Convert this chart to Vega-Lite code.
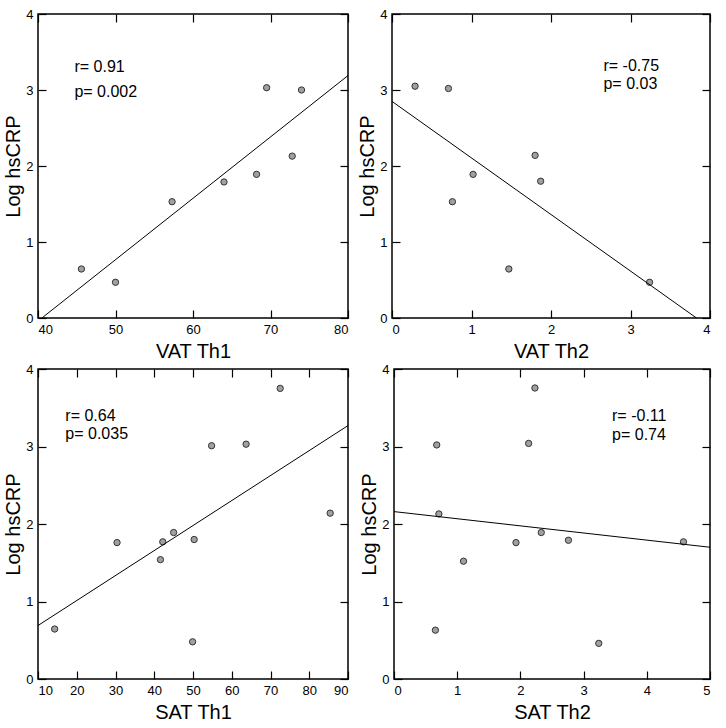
{
  "$schema": "https://vega.github.io/schema/vega-lite/v6.json",
  "background": "white",
  "padding": {"left": 3, "top": 7, "right": 0, "bottom": 0},
  "config": {
    "font": "Liberation Sans",
    "view": {"stroke": "black", "strokeWidth": 1.5},
    "axis": {
      "domain": false,
      "grid": false,
      "tickColor": "black",
      "tickSize": -8,
      "tickWidth": 1.2,
      "labelFont": "Liberation Sans",
      "labelFontSize": 13,
      "labelColor": "black",
      "labelPadding": 13,
      "titleFont": "Liberation Sans",
      "titleFontSize": 20,
      "titleFontWeight": "normal",
      "titleColor": "black",
      "titlePadding": 2
    },
    "axisX": {"titlePadding": 5},
    "text": {"font": "Liberation Sans", "fontSize": 16, "align": "left", "baseline": "middle", "color": "black"}
  },
  "spacing": 0,
  "vconcat": [
    {
      "spacing": 6,
      "hconcat": [
        {
          "width": 310, "height": 304,
          "layer": [
            {
              "data": {"values": [
                {"VAT_Th1": 45.6, "LogCRP": 0.645},
                {"VAT_Th1": 50.0, "LogCRP": 0.47},
                {"VAT_Th1": 57.3, "LogCRP": 1.53},
                {"VAT_Th1": 64.0, "LogCRP": 1.79},
                {"VAT_Th1": 68.2, "LogCRP": 1.89},
                {"VAT_Th1": 69.5, "LogCRP": 3.03},
                {"VAT_Th1": 72.8, "LogCRP": 2.13},
                {"VAT_Th1": 74.0, "LogCRP": 3.00}
              ]},
              "mark": {"type": "point", "filled": true, "fill": "#a0a0a0", "stroke": "#333333", "strokeWidth": 1, "size": 40, "opacity": 1},
              "encoding": {
                "x": {"field": "VAT_Th1", "type": "quantitative", "scale": {"domain": [40, 80], "nice": false}, "axis": {"title": "VAT Th1", "values": [40, 50, 60, 70, 80], "orient": "bottom"}},
                "y": {"field": "LogCRP", "type": "quantitative", "scale": {"domain": [0, 4], "nice": false}, "axis": {"title": "Log hsCRP", "values": [0, 1, 2, 3, 4], "orient": "left"}}
              }
            },
            {
              "data": {"values": [
                {"VAT_Th1": 40.5, "LogCRP": 0},
                {"VAT_Th1": 80, "LogCRP": 3.19}
              ]},
              "mark": {"type": "line", "color": "black", "strokeWidth": 1},
              "encoding": {
                "x": {"field": "VAT_Th1", "type": "quantitative", "axis": {"title": null, "labels": false, "values": [40, 50, 60, 70, 80], "orient": "top"}},
                "y": {"field": "LogCRP", "type": "quantitative", "axis": {"title": null, "labels": false, "values": [0, 1, 2, 3, 4], "orient": "right"}}
              }
            },
            {
              "data": {"values": [{}]},
              "mark": {"type": "text", "text": "r= 0.91"},
              "encoding": {"x": {"datum": 44.7, "type": "quantitative", "axis": null}, "y": {"datum": 3.30, "type": "quantitative", "axis": null}}
            },
            {
              "data": {"values": [{}]},
              "mark": {"type": "text", "text": "p= 0.002"},
              "encoding": {"x": {"datum": 44.7, "type": "quantitative", "axis": null}, "y": {"datum": 2.97, "type": "quantitative", "axis": null}}
            }
          ],
          "resolve": {"axis": {"x": "independent", "y": "independent"}}
        },
        {
          "width": 318, "height": 304,
          "layer": [
            {
              "data": {"values": [
                {"VAT_Th2": 0.29, "LogCRP": 3.05},
                {"VAT_Th2": 0.71, "LogCRP": 3.02},
                {"VAT_Th2": 0.76, "LogCRP": 1.53},
                {"VAT_Th2": 1.02, "LogCRP": 1.89},
                {"VAT_Th2": 1.47, "LogCRP": 0.645},
                {"VAT_Th2": 1.80, "LogCRP": 2.14},
                {"VAT_Th2": 1.87, "LogCRP": 1.80},
                {"VAT_Th2": 3.24, "LogCRP": 0.47}
              ]},
              "mark": {"type": "point", "filled": true, "fill": "#a0a0a0", "stroke": "#333333", "strokeWidth": 1, "size": 40, "opacity": 1},
              "encoding": {
                "x": {"field": "VAT_Th2", "type": "quantitative", "scale": {"domain": [0, 4], "nice": false}, "axis": {"title": "VAT Th2", "values": [0, 1, 2, 3, 4], "orient": "bottom"}},
                "y": {"field": "LogCRP", "type": "quantitative", "scale": {"domain": [0, 4], "nice": false}, "axis": {"title": "Log hsCRP", "values": [0, 1, 2, 3, 4], "orient": "left"}}
              }
            },
            {
              "data": {"values": [
                {"VAT_Th2": 0, "LogCRP": 2.85},
                {"VAT_Th2": 3.83, "LogCRP": 0}
              ]},
              "mark": {"type": "line", "color": "black", "strokeWidth": 1},
              "encoding": {
                "x": {"field": "VAT_Th2", "type": "quantitative", "axis": {"title": null, "labels": false, "values": [0, 1, 2, 3, 4], "orient": "top"}},
                "y": {"field": "LogCRP", "type": "quantitative", "axis": {"title": null, "labels": false, "values": [0, 1, 2, 3, 4], "orient": "right"}}
              }
            },
            {
              "data": {"values": [{}]},
              "mark": {"type": "text", "text": "r= -0.75"},
              "encoding": {"x": {"datum": 2.66, "type": "quantitative", "axis": null}, "y": {"datum": 3.32, "type": "quantitative", "axis": null}}
            },
            {
              "data": {"values": [{}]},
              "mark": {"type": "text", "text": "p= 0.03"},
              "encoding": {"x": {"datum": 2.66, "type": "quantitative", "axis": null}, "y": {"datum": 3.08, "type": "quantitative", "axis": null}}
            }
          ],
          "resolve": {"axis": {"x": "independent", "y": "independent"}}
        }
      ]
    },
    {
      "spacing": 8,
      "hconcat": [
        {
          "width": 310, "height": 310,
          "layer": [
            {
              "data": {"values": [
                {"SAT_Th1": 14.3, "LogCRP": 0.645},
                {"SAT_Th1": 30.4, "LogCRP": 1.76},
                {"SAT_Th1": 41.6, "LogCRP": 1.54},
                {"SAT_Th1": 42.2, "LogCRP": 1.77},
                {"SAT_Th1": 45.0, "LogCRP": 1.89},
                {"SAT_Th1": 49.9, "LogCRP": 0.48},
                {"SAT_Th1": 50.3, "LogCRP": 1.80},
                {"SAT_Th1": 54.8, "LogCRP": 3.01},
                {"SAT_Th1": 63.7, "LogCRP": 3.03},
                {"SAT_Th1": 72.5, "LogCRP": 3.75},
                {"SAT_Th1": 85.4, "LogCRP": 2.14}
              ]},
              "mark": {"type": "point", "filled": true, "fill": "#a0a0a0", "stroke": "#333333", "strokeWidth": 1, "size": 40, "opacity": 1},
              "encoding": {
                "x": {"field": "SAT_Th1", "type": "quantitative", "scale": {"domain": [10, 90], "nice": false}, "axis": {"title": "SAT Th1", "values": [10, 20, 30, 40, 50, 60, 70, 80, 90], "orient": "bottom"}},
                "y": {"field": "LogCRP", "type": "quantitative", "scale": {"domain": [0, 4], "nice": false}, "axis": {"title": "Log hsCRP", "values": [0, 1, 2, 3, 4], "orient": "left"}}
              }
            },
            {
              "data": {"values": [
                {"SAT_Th1": 10, "LogCRP": 0.69},
                {"SAT_Th1": 90, "LogCRP": 3.27}
              ]},
              "mark": {"type": "line", "color": "black", "strokeWidth": 1},
              "encoding": {
                "x": {"field": "SAT_Th1", "type": "quantitative", "axis": {"title": null, "labels": false, "values": [10, 20, 30, 40, 50, 60, 70, 80, 90], "orient": "top"}},
                "y": {"field": "LogCRP", "type": "quantitative", "axis": {"title": null, "labels": false, "values": [0, 1, 2, 3, 4], "orient": "right"}}
              }
            },
            {
              "data": {"values": [{}]},
              "mark": {"type": "text", "text": "r= 0.64"},
              "encoding": {"x": {"datum": 17.05, "type": "quantitative", "axis": null}, "y": {"datum": 3.40, "type": "quantitative", "axis": null}}
            },
            {
              "data": {"values": [{}]},
              "mark": {"type": "text", "text": "p= 0.035"},
              "encoding": {"x": {"datum": 17.05, "type": "quantitative", "axis": null}, "y": {"datum": 3.16, "type": "quantitative", "axis": null}}
            }
          ],
          "resolve": {"axis": {"x": "independent", "y": "independent"}}
        },
        {
          "width": 316, "height": 310,
          "layer": [
            {
              "data": {"values": [
                {"SAT_Th2": 0.655, "LogCRP": 0.63},
                {"SAT_Th2": 0.676, "LogCRP": 3.02},
                {"SAT_Th2": 0.71, "LogCRP": 2.13},
                {"SAT_Th2": 1.10, "LogCRP": 1.52},
                {"SAT_Th2": 1.93, "LogCRP": 1.76},
                {"SAT_Th2": 2.13, "LogCRP": 3.04},
                {"SAT_Th2": 2.23, "LogCRP": 3.755},
                {"SAT_Th2": 2.33, "LogCRP": 1.89},
                {"SAT_Th2": 2.76, "LogCRP": 1.79},
                {"SAT_Th2": 3.24, "LogCRP": 0.46},
                {"SAT_Th2": 4.58, "LogCRP": 1.77}
              ]},
              "mark": {"type": "point", "filled": true, "fill": "#a0a0a0", "stroke": "#333333", "strokeWidth": 1, "size": 40, "opacity": 1},
              "encoding": {
                "x": {"field": "SAT_Th2", "type": "quantitative", "scale": {"domain": [0, 5], "nice": false}, "axis": {"title": "SAT Th2", "values": [0, 1, 2, 3, 4, 5], "orient": "bottom"}},
                "y": {"field": "LogCRP", "type": "quantitative", "scale": {"domain": [0, 4], "nice": false}, "axis": {"title": "Log hsCRP", "values": [0, 1, 2, 3, 4], "orient": "left"}}
              }
            },
            {
              "data": {"values": [
                {"SAT_Th2": 0, "LogCRP": 2.16},
                {"SAT_Th2": 5, "LogCRP": 1.70}
              ]},
              "mark": {"type": "line", "color": "black", "strokeWidth": 1},
              "encoding": {
                "x": {"field": "SAT_Th2", "type": "quantitative", "axis": {"title": null, "labels": false, "values": [0, 1, 2, 3, 4, 5], "orient": "top"}},
                "y": {"field": "LogCRP", "type": "quantitative", "axis": {"title": null, "labels": false, "values": [0, 1, 2, 3, 4], "orient": "right"}}
              }
            },
            {
              "data": {"values": [{}]},
              "mark": {"type": "text", "text": "r= -0.11"},
              "encoding": {"x": {"datum": 3.45, "type": "quantitative", "axis": null}, "y": {"datum": 3.39, "type": "quantitative", "axis": null}}
            },
            {
              "data": {"values": [{}]},
              "mark": {"type": "text", "text": "p= 0.74"},
              "encoding": {"x": {"datum": 3.45, "type": "quantitative", "axis": null}, "y": {"datum": 3.15, "type": "quantitative", "axis": null}}
            }
          ],
          "resolve": {"axis": {"x": "independent", "y": "independent"}}
        }
      ]
    }
  ]
}
